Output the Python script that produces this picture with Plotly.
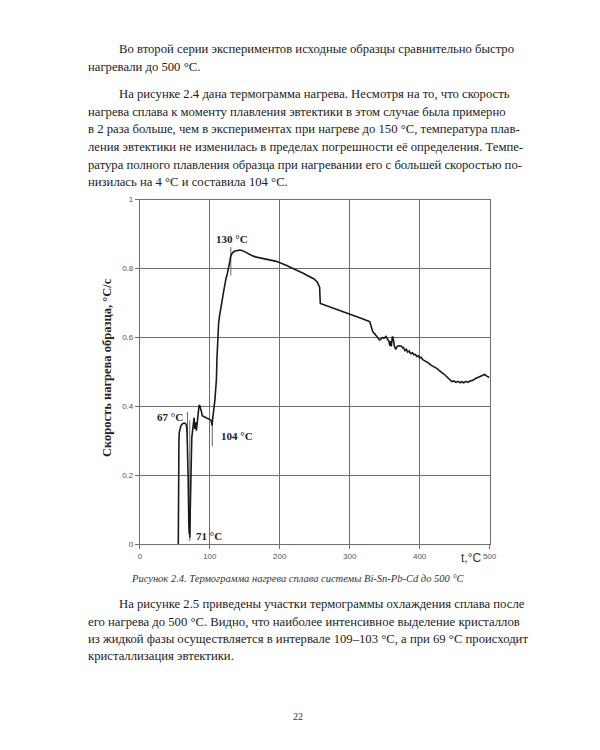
import plotly.graph_objects as go

# ---------------- data ----------------
temp = [54.9, 55.0, 55.3, 55.8, 56.3, 57.5, 58.7, 61, 63.4, 65.5, 66.7, 67.5, 68, 69, 70, 70.5, 71, 71.5,
        72, 72.5, 73, 73.5, 74.2, 75.1, 76, 76.5, 77.5, 78.4, 79.2, 79.8, 80.8, 81.5, 82.2, 83.5, 84.5,
        85.5, 86.8, 88, 89.2, 91.5, 93.9, 96, 98.6, 100.5, 101.9, 102.6, 103.3, 103.8, 104.7, 105.6,
        106.6, 107.3, 108, 109.4, 110.2, 111, 112.5, 114, 115.6, 117, 119, 121, 123, 125, 126.8, 128.5,
        130, 132, 135, 139, 143, 147, 151, 155, 160, 165, 169, 176, 183, 190, 195, 199.5, 205, 210, 215,
        220.7, 225, 230, 235, 239.4, 244, 249, 253.5, 256, 257, 257.5, 258, 270, 280, 290, 300, 310, 320,
        328.6, 330, 331.5, 333, 336, 339, 342.7, 345, 347, 349, 352, 354, 356, 357.5, 358.5, 359.5, 361,
        362, 363, 364, 366, 368, 371, 374, 375.6, 377, 379, 381, 383, 385, 387, 389.7, 392, 394, 396,
        398, 400, 402, 405, 408, 410, 413, 416, 419, 422, 425, 427, 430, 434, 437, 440, 443.7, 446, 449,
        452, 455, 458, 460, 463, 466, 469, 472, 475, 480, 485, 490, 493, 496, 500]
rate = [0.0, 0.12, 0.20, 0.30, 0.325, 0.338, 0.344, 0.350, 0.352, 0.350, 0.344, 0.32, 0.287, 0.19, 0.06,
        0.03, 0.07, 0.02, 0.10, 0.17, 0.14, 0.24, 0.31, 0.325, 0.34, 0.335, 0.368, 0.335, 0.345, 0.354,
        0.33, 0.345, 0.359, 0.385, 0.402, 0.404, 0.397, 0.385, 0.373, 0.370, 0.368, 0.366, 0.364, 0.362,
        0.359, 0.352, 0.345, 0.36, 0.373, 0.385, 0.397, 0.42, 0.44, 0.478, 0.54, 0.60, 0.64, 0.665, 0.68,
        0.70, 0.725, 0.75, 0.77, 0.785, 0.80, 0.82, 0.837, 0.845, 0.85, 0.853, 0.854, 0.852, 0.847, 0.842,
        0.838, 0.834, 0.832, 0.828, 0.825, 0.823, 0.821, 0.818, 0.814, 0.809, 0.804, 0.799, 0.796, 0.791,
        0.785, 0.78, 0.776, 0.770, 0.761, 0.753, 0.746, 0.72, 0.699, 0.690, 0.683, 0.675, 0.668, 0.661,
        0.653, 0.646, 0.635, 0.625, 0.617, 0.610, 0.602, 0.593, 0.596, 0.600, 0.598, 0.603, 0.595, 0.590,
        0.576, 0.59, 0.574, 0.603, 0.60, 0.585, 0.574, 0.566, 0.575, 0.576, 0.575, 0.570, 0.571, 0.562,
        0.566, 0.558, 0.561, 0.553, 0.556, 0.55, 0.551, 0.545, 0.547, 0.541, 0.543, 0.535, 0.532, 0.529,
        0.526, 0.520, 0.517, 0.512, 0.510, 0.506, 0.502, 0.495, 0.490, 0.483, 0.476, 0.472, 0.474, 0.470,
        0.473, 0.469, 0.472, 0.469, 0.473, 0.470, 0.474, 0.475, 0.481, 0.486, 0.491, 0.493, 0.488, 0.484]

marker_temps = [68, 71.3, 103.5, 130]
marker_lo = [0.29, 0.01, 0.285, 0.78]
marker_hi = [0.385, 0.36, 0.37, 0.862]
marker_labels = ["67 °С", "71 °С", "104 °С", "130 °С"]
label_x = [64, 77, 113, 106]
label_y = [0.37, 0.025, 0.314, 0.887]
label_anchor = ["right", "left", "left", "left"]

x_ticks = [0, 100, 200, 300, 400, 500]
y_ticks = [0, 0.2, 0.4, 0.6, 0.8, 1]
y_tick_text = ["0", "0.2", "0.4", "0.6", "0.8", "1"]

top_text = [
    ("Во второй серии экспериментов исходные образцы сравнительно быстро", True),
    ("нагревали до 500 °С.", False),
    ("На рисунке 2.4 дана термограмма нагрева. Несмотря на то, что скорость", True),
    ("нагрева сплава к моменту плавления эвтектики в этом случае была примерно", False),
    ("в 2 раза больше, чем в экспериментах при нагреве до 150 °С, температура плав-", False),
    ("ления эвтектики не изменилась в пределах погрешности её определения. Темпе-", False),
    ("ратура полного плавления образца при нагревании его с большей скоростью по-", False),
    ("низилась на 4 °С и составила 104 °С.", False),
]
top_y = [46, 64, 91, 109, 127, 145, 163, 180]

caption = "Рисунок 2.4. Термограмма нагрева сплава системы Bi-Sn-Pb-Cd до 500 °С"

bottom_text = [
    ("На рисунке 2.5 приведены участки термограммы охлаждения сплава после", True),
    ("его нагрева до 500 °С. Видно, что наиболее интенсивное выделение кристаллов", False),
    ("из жидкой фазы осуществляется в интервале 109–103 °С, а при 69 °С происходит", False),
    ("кристаллизация эвтектики.", False),
]
bottom_y = [607, 625, 643, 660]

# ---------------- figure ----------------
W, H = 600, 750
PL, PR, PT, PB = 140, 495, 198, 547
SERIF = "Liberation Serif, Times New Roman, serif"

fig = go.Figure()

for xm, lo, hi in zip(marker_temps, marker_lo, marker_hi):
    fig.add_trace(go.Scatter(x=[xm, xm], y=[lo, hi], mode="lines",
                             line=dict(color="#666666", width=1), hoverinfo="skip", showlegend=False))

fig.add_trace(go.Scatter(x=temp, y=rate, mode="lines",
                         line=dict(color="#1a1a1a", width=1.6), showlegend=False))

annotations = []
for t, xl, yl, an in zip(marker_labels, label_x, label_y, label_anchor):
    annotations.append(dict(x=xl, y=yl, xref="x", yref="y", text="<b>%s</b>" % t, showarrow=False,
                            xanchor=an, yanchor="middle",
                            font=dict(family=SERIF, size=11, color="#222222")))

body = dict(family=SERIF, size=12.7, color="#222222")


def px(xp):
    return xp / W


def py(yp):
    return 1 - yp / H


for (line, indent), yp in zip(top_text, top_y):
    annotations.append(dict(x=px(117 if indent else 85), y=py(yp), xref="paper", yref="paper",
                            text=line, showarrow=False, xanchor="left", yanchor="middle", font=body))
for (line, indent), yp in zip(bottom_text, bottom_y):
    annotations.append(dict(x=px(117 if indent else 85), y=py(yp), xref="paper", yref="paper",
                            text=line, showarrow=False, xanchor="left", yanchor="middle", font=body))

annotations.append(dict(x=px(300), y=py(581), xref="paper", yref="paper", text="<i>%s</i>" % caption,
                        showarrow=False, xanchor="center", yanchor="middle",
                        font=dict(family=SERIF, size=10.5, color="#333333")))
annotations.append(dict(x=px(300), y=py(721), xref="paper", yref="paper", text="22",
                        showarrow=False, xanchor="center", yanchor="middle",
                        font=dict(family=SERIF, size=10, color="#333333")))
annotations.append(dict(x=px(106), y=py(368), xref="paper", yref="paper",
                        text="<b>Скорость нагрева образца, °С/с</b>", textangle=-90,
                        showarrow=False, xanchor="center", yanchor="middle",
                        font=dict(family=SERIF, size=12.5, color="#222222")))
annotations.append(dict(x=px(476), y=py(561), xref="paper", yref="paper", text="t,°C",
                        showarrow=False, xanchor="center", yanchor="middle",
                        font=dict(family="Liberation Sans", size=12, color="#333333")))

axis_common = dict(showgrid=True, gridcolor="#6e6e6e", gridwidth=1, showline=True, linecolor="#6e6e6e",
                   linewidth=1, mirror=True, zeroline=False, ticks="outside", ticklen=4,
                   tickcolor="#6e6e6e", tickfont=dict(family="Liberation Sans", size=8, color="#555555"))

fig.update_layout(
    width=W, height=H, margin=dict(l=0, r=0, t=0, b=0),
    paper_bgcolor="white", plot_bgcolor="white",
    xaxis=dict(range=[0, 500], tickvals=x_ticks, domain=[PL / W, PR / W], **axis_common),
    yaxis=dict(range=[0, 1], tickvals=y_ticks, ticktext=y_tick_text,
               domain=[1 - PB / H, 1 - PT / H], **axis_common),
    annotations=annotations,
)

fig.write_html("out.html")
